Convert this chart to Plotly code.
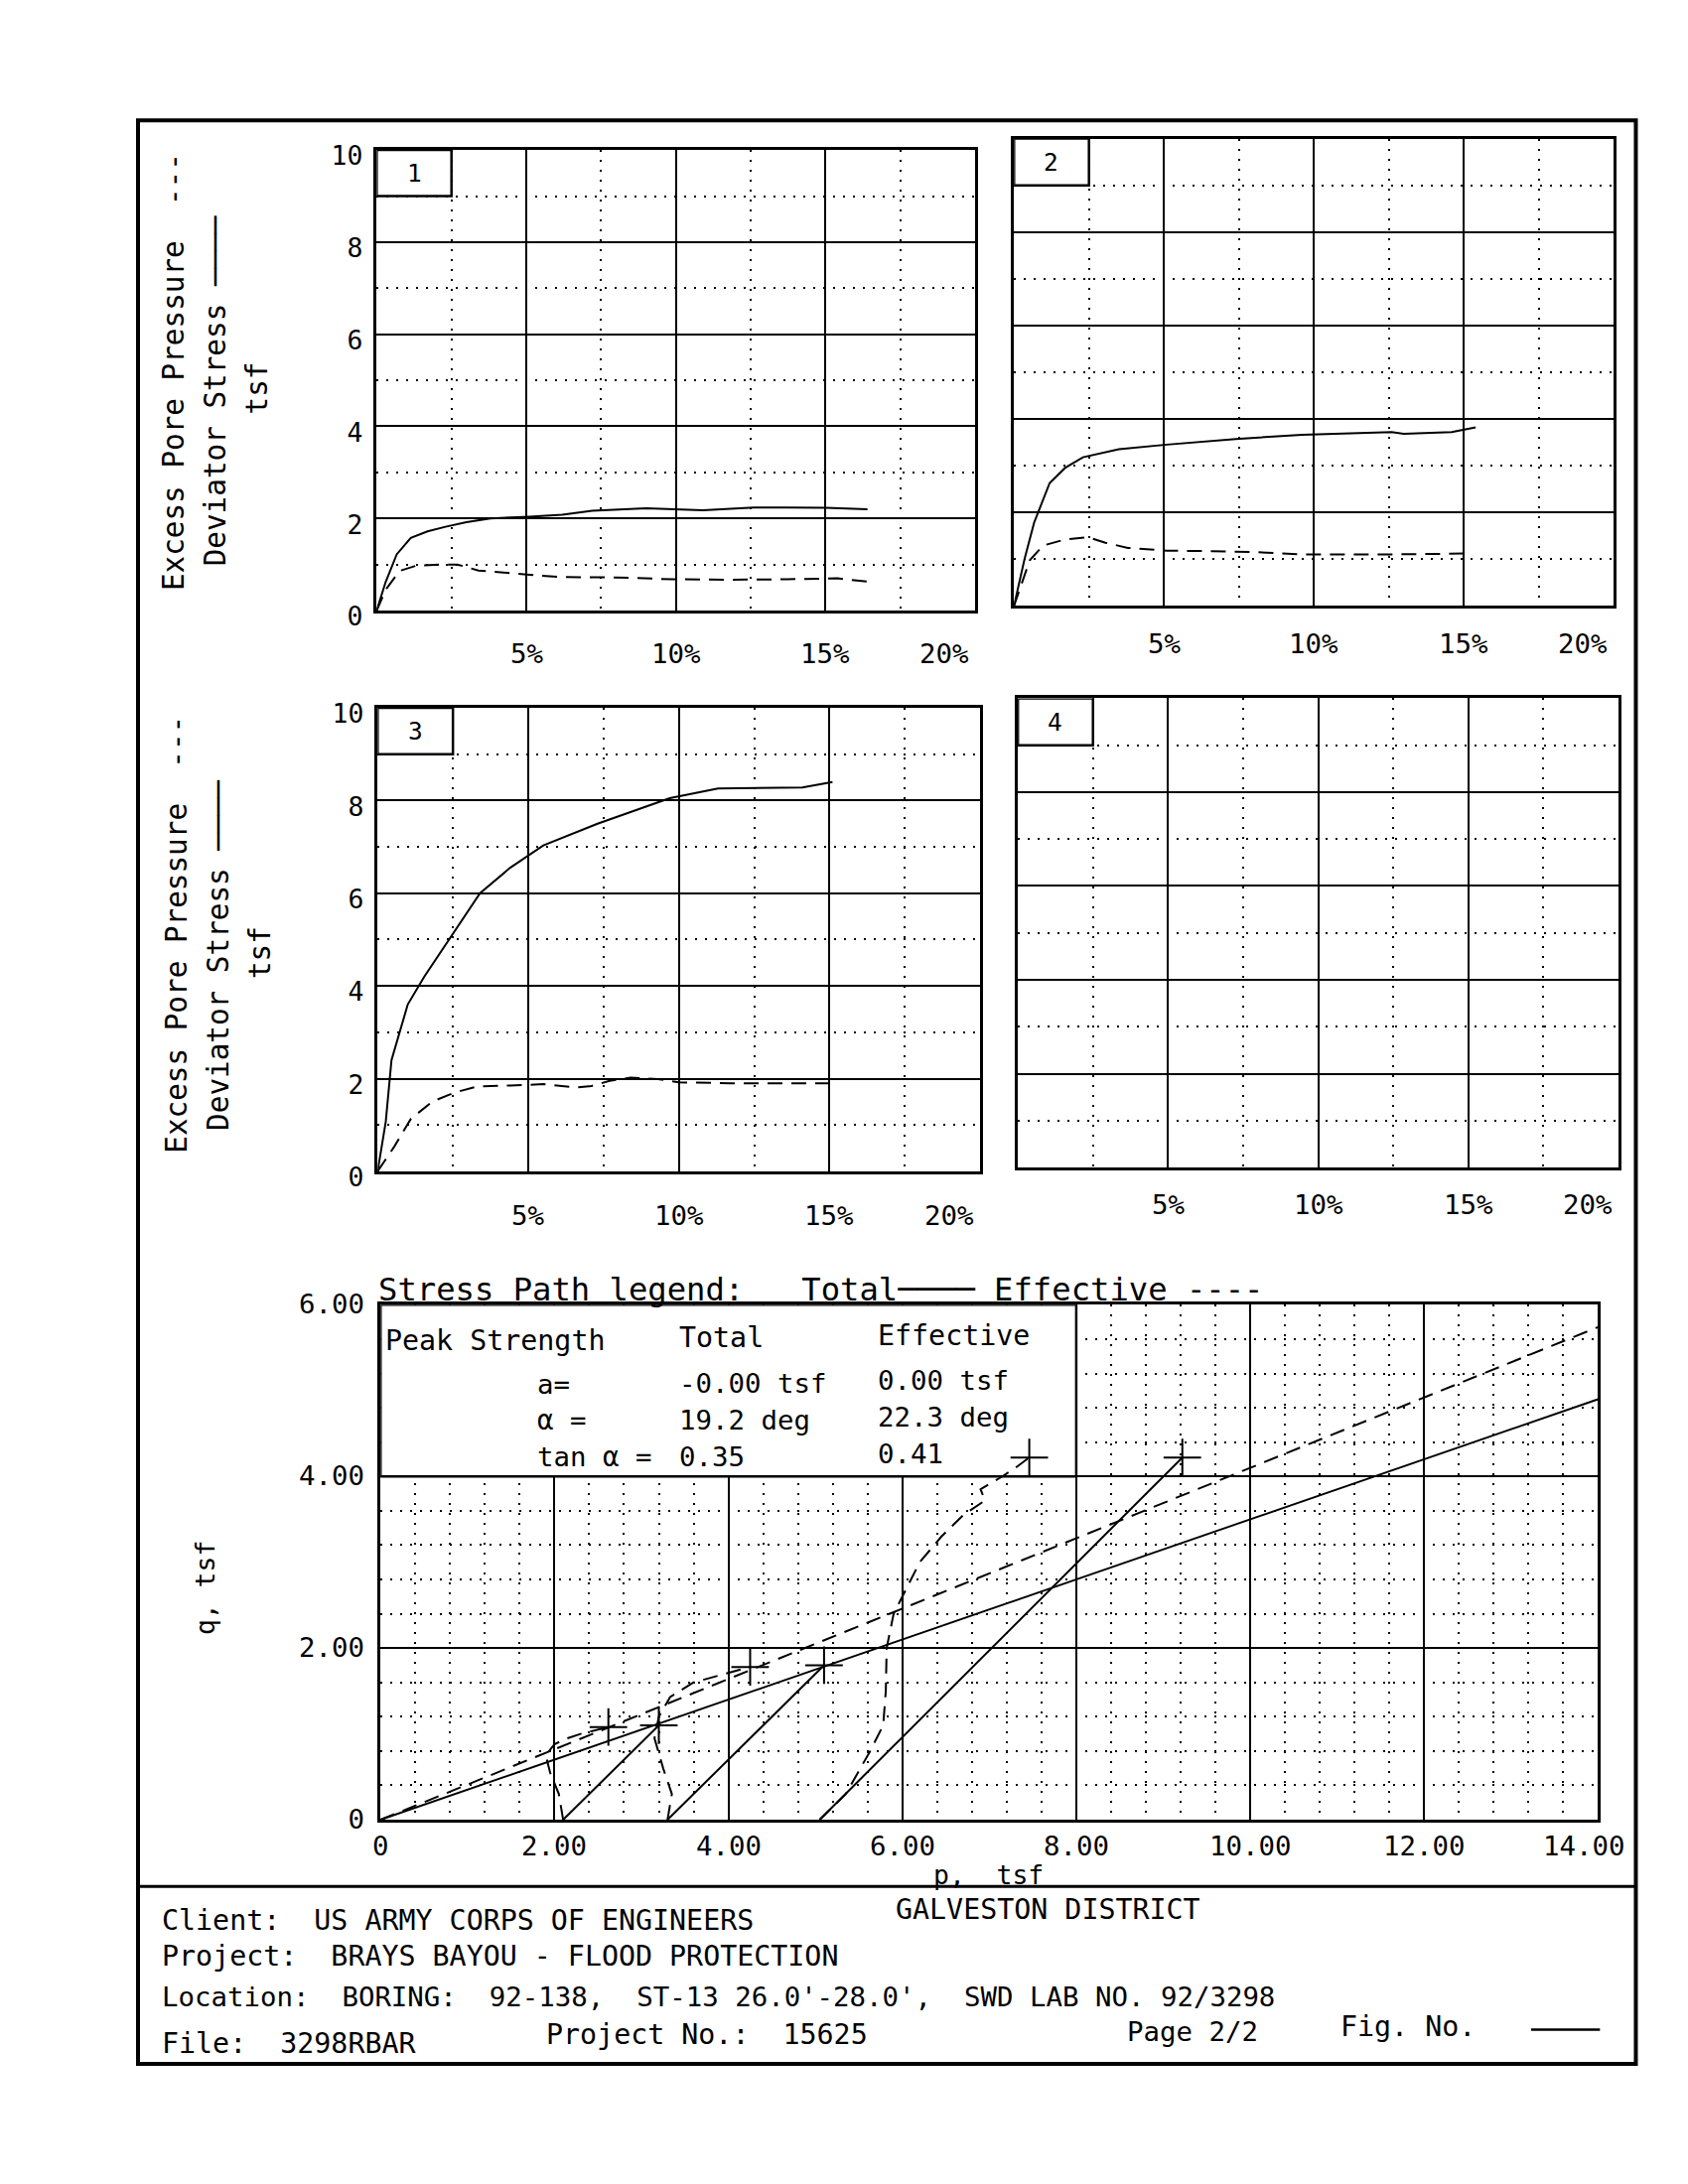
import plotly.graph_objects as go

W, H = 1700, 2200
MONO = "DejaVu Sans Mono"

# ---------------- data ----------------
# Specimen 1 : deviator stress and excess pore pressure vs axial strain (%)
strain1_dev = [0, 0.3, 0.67, 1.14, 1.7, 2.3, 3.0, 3.8, 5.1, 6.2, 7.2, 9.0, 10.9, 12.6, 13.7, 15.0, 16.4]
dev1 = [0, 0.62, 1.22, 1.58, 1.72, 1.82, 1.92, 2.0, 2.04, 2.08, 2.17, 2.22, 2.18, 2.24, 2.24, 2.23, 2.2]
strain1_u = [0, 0.3, 0.76, 1.3, 2.1, 2.7, 3.4, 4.2, 5.1, 6.1, 8.0, 9.9, 11.8, 13.7, 15.4, 16.4]
u1 = [0, 0.45, 0.86, 0.97, 1.0, 1.0, 0.87, 0.82, 0.78, 0.73, 0.72, 0.68, 0.67, 0.68, 0.7, 0.63]

# Specimen 2
strain2_dev = [0, 0.35, 0.67, 1.19, 1.7, 2.3, 3.5, 5.1, 7.4, 9.6, 12.6, 13.0, 14.6, 15.4]
dev2 = [0, 1.0, 1.78, 2.63, 2.95, 3.18, 3.35, 3.45, 3.57, 3.66, 3.72, 3.68, 3.72, 3.82]
strain2_u = [0, 0.52, 0.97, 1.7, 2.45, 3.05, 3.8, 5.1, 6.6, 8.0, 9.6, 11.1, 12.6, 15.2]
u2 = [0, 0.97, 1.29, 1.42, 1.47, 1.35, 1.24, 1.18, 1.17, 1.15, 1.1, 1.1, 1.1, 1.12]

# Specimen 3
strain3_dev = [0, 0.27, 0.46, 1.0, 1.55, 2.37, 3.4, 4.4, 5.5, 7.3, 9.7, 11.3, 14.1, 15.1]
dev3 = [0, 1.07, 2.4, 3.6, 4.2, 5.0, 6.0, 6.55, 7.03, 7.5, 8.05, 8.26, 8.28, 8.4]
strain3_u = [0, 0.55, 1.1, 1.83, 2.56, 3.3, 4.4, 5.5, 6.6, 7.1, 7.7, 8.4, 9.3, 10.0, 11.7, 13.5, 15.25]
u3 = [0, 0.53, 1.13, 1.51, 1.7, 1.83, 1.85, 1.88, 1.81, 1.84, 1.95, 2.02, 1.99, 1.92, 1.9, 1.9, 1.9]

# Stress paths (p, q in tsf)
env_p = [0, 14]
env_q_total = [0, 4.9]
env_q_eff = [0, 5.74]

tp1_p = [2.1, 3.2]
tp1_q = [0, 1.1]
tp2_p = [3.3, 5.1]
tp2_q = [0, 1.8]
tp3_p = [5.05, 9.22]
tp3_q = [0, 4.22]

ep1_p = [2.1, 2.05, 1.95, 1.9, 2.0, 2.15, 2.3, 2.45, 2.62]
ep1_q = [0, 0.3, 0.55, 0.75, 0.88, 0.95, 1.0, 1.04, 1.08]
ep2_p = [3.3, 3.35, 3.25, 3.15, 3.2, 3.33, 3.6, 3.9, 4.25]
ep2_q = [0, 0.3, 0.6, 0.95, 1.2, 1.43, 1.6, 1.68, 1.78]
ep3_p = [5.05, 5.35, 5.63, 5.78, 5.81, 5.82, 5.9, 6.2, 6.45, 6.7, 6.95, 6.9, 7.15, 7.3, 7.46]
ep3_q = [0, 0.3, 0.8, 1.1, 1.5, 2.0, 2.4, 3.0, 3.3, 3.55, 3.72, 3.85, 4.0, 4.1, 4.22]

peak_total_p = [3.2, 5.1, 9.22]
peak_total_q = [1.1, 1.8, 4.22]
peak_eff_p = [2.62, 4.25, 7.46]
peak_eff_q = [1.08, 1.78, 4.22]

pct_ticks = [5, 10, 15, 20]
pct_text = ["5%", "10%", "15%", "20%"]
tsf_ticks = [0, 2, 4, 6, 8, 10]
p_ticks = [0, 2, 4, 6, 8, 10, 12, 14]
p_text = ["0", "2.00", "4.00", "6.00", "8.00", "10.00", "12.00", "14.00"]
q_ticks = [0, 2, 4, 6]
q_text = ["0", "2.00", "4.00", "6.00"]

# ---------------- layout helpers ----------------
# positions below are given on a drafting grid and mapped to page pixels
K = 0.977
OFF = 8


def gx(x):
    return 139 + (x - 129) * K - OFF


def gy(y):
    return 107 + (y - 80) * K - OFF


def fs(s):
    return round(s * K, 1)


def fx(x):
    return gx(x) / W


def fy(y):
    return 1 - gy(y) / H


DOT = "2px,8px"
DASH = "15px,9px"

panels = {
    1: (375, 992, 111, 594),
    2: (1032, 1650, 99, 589),
    3: (376, 997, 696, 1182),
    4: (1036, 1655, 686, 1178),
}
stress_box = (379, 1634, 1322, 1862)

fig = go.Figure()


def axname(n):
    return "" if n == 1 else str(n)


layout = {}
for n, (x0, x1, y0, y1) in panels.items():
    s = axname(n)
    layout["xaxis" + s] = dict(
        domain=[fx(x0), fx(x1)], range=[0, 20], anchor="y" + s,
        showline=True, mirror=True, linecolor="black", linewidth=2.5,
        showgrid=True, gridcolor="black", gridwidth=1.8, tick0=0, dtick=5,
        minor=dict(showgrid=True, tick0=0, dtick=2.5, gridcolor="black",
                   gridwidth=1.8, griddash=DOT),
        showticklabels=False, ticks="", zeroline=False, fixedrange=True,
    )
    layout["yaxis" + s] = dict(
        domain=[fy(y1), fy(y0)], range=[0, 10], anchor="x" + s,
        showline=True, mirror=True, linecolor="black", linewidth=2.5,
        showgrid=True, gridcolor="black", gridwidth=1.8,
        tickmode="array", tickvals=tsf_ticks,
        ticktext=[str(v) for v in tsf_ticks],
        minor=dict(showgrid=True, tickmode="linear", tick0=0, dtick=1,
                   gridcolor="black", gridwidth=1.8, griddash=DOT),
        showticklabels=(n in (1, 3)), ticks="", zeroline=False,
        tickfont=dict(family=MONO, size=fs(27), color="black"),
        ticklabelstandoff=6, ticklabelshift=6, fixedrange=True,
    )

sx0, sx1, sy0, sy1 = stress_box
layout["xaxis5"] = dict(
    domain=[fx(sx0), fx(sx1)], range=[0, 14], anchor="y5",
    showline=True, mirror=True, linecolor="black", linewidth=2.5,
    showgrid=True, gridcolor="black", gridwidth=1.8,
    tickmode="array", tickvals=p_ticks, ticktext=p_text,
    minor=dict(showgrid=True, tickmode="linear", tick0=0, dtick=0.4,
               gridcolor="black", gridwidth=1.8, griddash=DOT),
    showticklabels=False, ticks="", zeroline=False, fixedrange=True,
)
layout["yaxis5"] = dict(
    domain=[fy(sy1), fy(sy0)], range=[0, 6], anchor="x5",
    showline=True, mirror=True, linecolor="black", linewidth=2.5,
    showgrid=True, gridcolor="black", gridwidth=1.8,
    tickmode="array", tickvals=q_ticks, ticktext=q_text,
    minor=dict(showgrid=True, tickmode="linear", tick0=0, dtick=0.4,
               gridcolor="black", gridwidth=1.8, griddash=DOT),
    ticks="", zeroline=False,
    tickfont=dict(family=MONO, size=fs(28), color="black"),
    ticklabelstandoff=8, ticklabelshift=-1, fixedrange=True,
)

# ---------------- traces ----------------
LINE = dict(color="black", width=2)
DLINE = dict(color="black", width=2, dash=DASH)

curves = [
    (1, strain1_dev, dev1, strain1_u, u1),
    (2, strain2_dev, dev2, strain2_u, u2),
    (3, strain3_dev, dev3, strain3_u, u3),
]
for n, sd, d, su, u in curves:
    s = axname(n)
    fig.add_trace(go.Scatter(x=sd, y=d, mode="lines", line=LINE,
                             xaxis="x" + s, yaxis="y" + s, showlegend=False,
                             hoverinfo="skip"))
    fig.add_trace(go.Scatter(x=su, y=u, mode="lines", line=DLINE,
                             xaxis="x" + s, yaxis="y" + s, showlegend=False,
                             hoverinfo="skip"))

# empty panel 4
fig.add_trace(go.Scatter(x=[], y=[], mode="lines", xaxis="x4", yaxis="y4",
                         showlegend=False))

# stress paths
for px_, qy_, ln in [
    (env_p, env_q_total, LINE), (env_p, env_q_eff, DLINE),
    (tp1_p, tp1_q, LINE), (tp2_p, tp2_q, LINE), (tp3_p, tp3_q, LINE),
    (ep1_p, ep1_q, DLINE), (ep2_p, ep2_q, DLINE), (ep3_p, ep3_q, DLINE),
]:
    fig.add_trace(go.Scatter(x=px_, y=qy_, mode="lines", line=ln,
                             xaxis="x5", yaxis="y5", showlegend=False,
                             hoverinfo="skip"))

for pp, qq in [(peak_total_p, peak_total_q), (peak_eff_p, peak_eff_q)]:
    fig.add_trace(go.Scatter(x=pp, y=qq, mode="markers",
                             marker=dict(symbol="cross-thin", size=27,
                                         line=dict(color="black", width=2)),
                             xaxis="x5", yaxis="y5", showlegend=False,
                             hoverinfo="skip"))

# ---------------- shapes ----------------
shapes = []
for n in panels:
    s = axname(n)
    shapes.append(dict(type="rect", xref="x" + s, yref="y" + s,
                       x0=0, x1=2.5, y0=9, y1=10, fillcolor="white",
                       line=dict(color="black", width=2.5), layer="between"))
shapes.append(dict(type="rect", xref="x5", yref="y5", x0=0, x1=8, y0=4, y1=6,
                   fillcolor="white", line=dict(color="black", width=2.5),
                   layer="between"))
# outer frame and footer separator
shapes.append(dict(type="rect", xref="paper", yref="paper",
                   x0=fx(129), x1=fx(1673), y0=fy(2118), y1=fy(80),
                   line=dict(color="black", width=4)))
shapes.append(dict(type="line", xref="paper", yref="paper",
                   x0=fx(129), x1=fx(1673), y0=fy(1932), y1=fy(1932),
                   line=dict(color="black", width=3)))
shapes.append(dict(type="line", xref="paper", yref="paper",
                   x0=fx(1565), x1=fx(1636), y0=fy(2082), y1=fy(2082),
                   line=dict(color="black", width=2.5)))

# ---------------- annotations ----------------
ann = []


def txt(text, x, y, size=28, anchor="left", angle=0):
    ann.append(dict(text=text, x=fx(x), y=fy(y), xref="paper", yref="paper",
                    xanchor=anchor, yanchor="middle", showarrow=False,
                    textangle=angle,
                    font=dict(family=MONO, size=fs(size), color="black")))


# panel numbers
for n in panels:
    s = axname(n)
    ann.append(dict(text=str(n), x=1.25, y=9.5, xref="x" + s, yref="y" + s,
                    showarrow=False, xanchor="center", yanchor="middle",
                    font=dict(family=MONO, size=fs(25), color="black")))

# percent tick labels
label_rows = {1: 639, 2: 629, 3: 1228, 4: 1217}
for n, yrow in label_rows.items():
    s = axname(n)
    for v, t in zip(pct_ticks, pct_text):
        ann.append(dict(text=t, x=v, y=fy(yrow), xref="x" + s, yref="paper",
                        showarrow=False,
                        xanchor="right" if v == 20 else "center",
                        xshift=-4 if v == 20 else 0, yanchor="middle",
                        font=dict(family=MONO, size=fs(28), color="black")))

# p-axis tick labels (last one pulled inside the frame as in the reference)
for v, t in zip(p_ticks, p_text):
    ann.append(dict(text=t, x=v, y=fy(1889), xref="x5", yref="paper",
                    showarrow=False, xanchor="center",
                    xshift=-14 if v == 14 else 0, yanchor="middle",
                    font=dict(family=MONO, size=fs(28), color="black")))

# vertical axis titles
for (ex, ey), (dx, dy), (tx, ty) in [
    ((166, 344), (209, 364), (252, 361)),
    ((169, 934), (212, 956), (255, 953)),
]:
    txt("Excess Pore Pressure  ---", ex, ey, size=30, anchor="center", angle=-90)
    txt("Deviator Stress ────", dx, dy, size=30, anchor="center", angle=-90)
    txt("tsf", tx, ty, size=30, anchor="center", angle=-90)

txt("q, tsf", 198, 1619, size=27, anchor="center", angle=-90)
txt("p,  tsf", 1006, 1920, size=27, anchor="center")

# stress path legend and strength box
txt("Stress Path legend:   Total──── Effective ----", 375, 1306, size=33)
txt("Peak Strength", 382, 1360, size=29)
txt("Total", 685, 1357, size=29)
txt("Effective", 889, 1354, size=29)
txt("a=", 538, 1405, size=28)
txt("-0.00 tsf", 685, 1404, size=28)
txt("0.00 tsf", 889, 1401, size=28)
txt("α =", 538, 1443, size=28)
txt("19.2 deg", 685, 1443, size=28)
txt("22.3 deg", 889, 1440, size=28)
txt("tan α =", 538, 1481, size=28)
txt("0.35", 685, 1481, size=28)
txt("0.41", 889, 1478, size=28)

# footer
txt("Client:  US ARMY CORPS OF ENGINEERS", 152, 1968, size=29)
txt("GALVESTON DISTRICT", 908, 1956, size=29)
txt("Project:  BRAYS BAYOU - FLOOD PROTECTION", 152, 2005, size=29)
txt("Location:  BORING:  92-138,  ST-13 26.0'-28.0',  SWD LAB NO. 92/3298",
    152, 2048, size=28)
txt("File:  3298RBAR", 152, 2097, size=29)
txt("Project No.:  15625", 548, 2087, size=29)
txt("Page 2/2", 1146, 2084, size=28)
txt("Fig. No.", 1366, 2079, size=29)

layout.update(dict(
    width=W, height=H, margin=dict(l=0, r=0, t=0, b=0),
    paper_bgcolor="white", plot_bgcolor="white",
    showlegend=False, shapes=shapes, annotations=ann,
    font=dict(family=MONO, color="black"),
))
fig.update_layout(**layout)

fig.write_html("out.html")
